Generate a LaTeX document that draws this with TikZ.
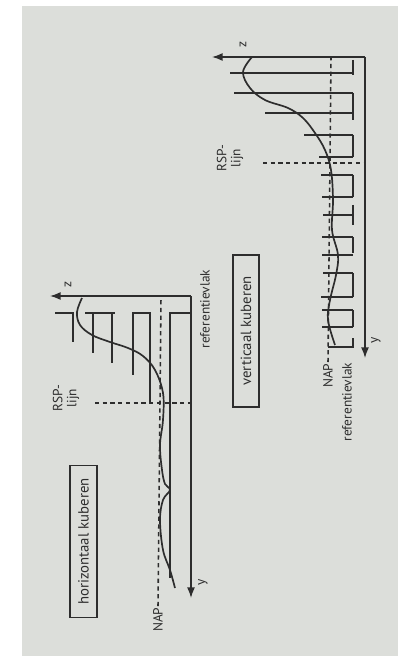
\documentclass[tikz,border=0pt]{standalone}
\usepackage{fontspec}
\setmainfont{PT Sans}
\usetikzlibrary{arrows.meta}
\definecolor{scan}{RGB}{220,222,218}
\definecolor{ink}{RGB}{45,45,45}
\tikzset{
	>=Latex,
	axis/.style={
		->,
		draw=ink,
		line width=1pt
	},
	slice/.style={
		draw=ink,
		line width=1.15pt
	},
	bar/.style={
		draw=ink,
		line width=1.8pt
	},
	terrain/.style={
		draw=ink,
		line width=1.2pt
	},
	levelline/.style={
		draw=ink,
		line width=1.1pt,
		dash pattern=on 3pt off 2.5pt
	},
	lbl/.style={
		rotate=90,
		text=ink,
		font=\fontsize{9.5}{10}\selectfont,
		inner sep=1pt
	},
	titlebox/.style={
		rotate=90,
		draw=ink,
		line width=1.2pt,
		text=ink,
		font=\fontsize{10.5}{12}\selectfont,
		minimum width=3.8cm,
		minimum height=0.66cm,
		inner sep=2pt
	}
}

\begin{document}
\begin{tikzpicture}[x=0.025cm, y=-0.025cm]
	\useasboundingbox (0,0) rectangle (406,662);
	\fill[white] (0,0) rectangle (406,662);
	\fill[scan] (22,6) rectangle (398,656);
	
	%--------------------
	% Horizontal kuberen
	%--------------------
	\coordinate (ho) at (191,296);
	\coordinate (hz) at (50,296);
	\coordinate (hy) at (191,598);
	\draw[axis] (ho) -- (hz);
	\draw[axis] (ho) -- (hy);
	\node[lbl] (hzlabel) at (68,285) {z};
	\node[lbl] (hylabel) at (203,582) {y};
	
	% layers
	\draw[slice] (55,313) -- (73,313) -- (73,342);
	\draw[slice] (85,313) -- (115,313);
	\draw[slice] (93,313) -- (93,353);
	\draw[slice] (112,313) -- (112,363);
	\draw[slice] (132,313) -- (151,313);
	\draw[slice] (133,313) -- (133,375);
	\draw[slice] (150,313) -- (150,403);
	\draw[slice] (191,313) -- (170,313) -- (170,578);
	
	% terrain
	\draw[terrain] plot[smooth, tension=0.6] coordinates {
		(82,298) (77,312) (80,325) (92,335) (110,342) (128,348) (143,356)
		(155,370) (163,393) (163,420) (160,445) (162,470) (165,484)
		(170,490) (163,500) (160,520) (163,550) (170,570) (175,588)};
	
	% NAP and RSP
	\node[lbl, anchor=east] (hnap) at (158,606) {NAP};
	\coordinate (hnaptop) at (161,298);
	\draw[levelline] (hnap.east) -- (hnaptop);
	\node[lbl, align=center] (hrsp) at (66,398) {RSP-\\lijn};
	\coordinate (hrspa) at (95,403);
	\coordinate (hrspb) at (191,403);
	\draw[levelline] (hrspa) -- (hrspb);
	\node[lbl, anchor=east] (href) at (205,268) {referentievlak};
	
	\node[titlebox] (hbox) at (83.5,541.5) {horizontaal kuberen};
	
	%--------------------
	% Verticaal kuberen
	%--------------------
	\coordinate (vo) at (365,57);
	\coordinate (vz) at (212,57);
	\coordinate (vy) at (365,358);
	\draw[axis] (vo) -- (vz);
	\draw[axis] (vo) -- (vy);
	\node[lbl] (vzlabel) at (243,45) {z};
	\node[lbl] (vylabel) at (376,340) {y};
	
	% columns
	\foreach \ya/\yb in {60/75, 93/120, 135/157, 175/197, 205/225,
		237/253, 273/297, 310/327, 338/348}
		\draw[bar] (353,\ya) -- (353,\yb);
	\foreach \yy/\xs in {73/230, 93/234, 113/265, 135/304, 157/319,
		175/321, 197/322, 215/323, 237/322, 255/322, 273/323, 297/321,
		310/322, 327/322, 347/328}
		\draw[slice] (\xs,\yy) -- (353,\yy);
	
	% terrain
	\draw[terrain] plot[smooth, tension=0.6] coordinates {
		(252,57) (243,72) (250,88) (265,100) (288,108) (303,118)
		(315,133) (325,150) (331,170) (333,200) (332,230) (338,255)
		(336,275) (330,300) (328,320) (335,345)};
	
	% NAP and RSP
	\node[lbl, anchor=east] (vnap) at (328,362) {NAP};
	\coordinate (vnaptop) at (331,57);
	\draw[levelline] (vnap.east) -- (vnaptop);
	\node[lbl, align=center] (vrsp) at (230,158) {RSP-\\lijn};
	\coordinate (vrspa) at (263,163);
	\coordinate (vrspb) at (365,163);
	\draw[levelline] (vrspa) -- (vrspb);
	\node[lbl, anchor=east] (vref) at (347,361) {referentievlak};
	
	\node[titlebox] (vbox) at (246,331) {verticaal kuberen};
	
\end{tikzpicture}
\end{document}
